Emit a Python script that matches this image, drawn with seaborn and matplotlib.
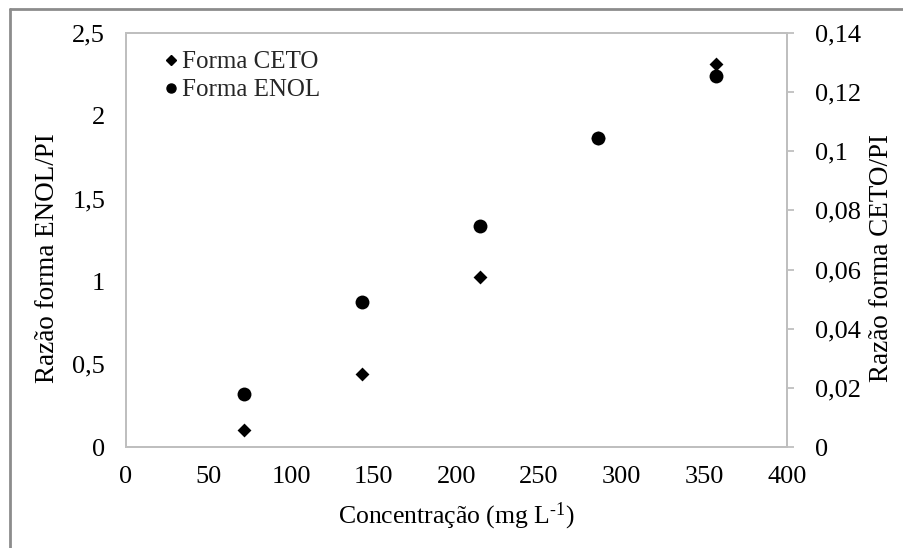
import matplotlib
matplotlib.use("Agg")
import matplotlib.pyplot as plt
import seaborn as sns
import pandas as pd
from matplotlib.ticker import FuncFormatter, FixedLocator
from matplotlib.lines import Line2D

# data
concentracao = [71.4, 142.8, 214.2, 285.6, 357.0]
enol = [0.318, 0.876, 1.335, 1.866, 2.24]
ceto = [0.0057, 0.0247, 0.0575, 0.1045, 0.1295]
left_ticks = [0, 0.5, 1, 1.5, 2, 2.5]
right_ticks = [0, 0.02, 0.04, 0.06, 0.08, 0.10, 0.12, 0.14]
x_ticks = [0, 50, 100, 150, 200, 250, 300, 350, 400]

sns.set_theme(style="white")
plt.rcParams['font.family'] = ['Liberation Serif', 'DejaVu Serif']
plt.rcParams['mathtext.fontset'] = 'custom'
plt.rcParams['mathtext.rm'] = 'Liberation Serif'
plt.rcParams['mathtext.it'] = 'Liberation Serif:italic'

df = pd.DataFrame({"x": concentracao, "enol": enol, "ceto": ceto})

fig = plt.figure(figsize=(9.04, 5.48), dpi=100)
ax = fig.add_axes([126/904, 101/548, (787-126)/904, (447-33)/548])
ax2 = ax.twinx()

sns.scatterplot(data=df, x="x", y="enol", ax=ax, marker="o", s=100, color="black",
                edgecolor="black", linewidth=0, zorder=3)
sns.scatterplot(data=df, x="x", y="ceto", ax=ax2, marker="D", s=50, color="black",
                edgecolor="black", linewidth=0, zorder=3)

def comma(v, pos=None):
    s = ("%.2f" % v).rstrip("0").rstrip(".")
    return s.replace(".", ",")

grey = "#bfbfbf"
fs = 19
ax.set_xlim(0, 400)
ax.set_ylim(0, 2.5)
ax2.set_ylim(0, 0.14)
ax.xaxis.set_major_locator(FixedLocator(x_ticks))
ax.yaxis.set_major_locator(FixedLocator(left_ticks))
ax2.yaxis.set_major_locator(FixedLocator(right_ticks))
ax.yaxis.set_major_formatter(FuncFormatter(comma))
ax2.yaxis.set_major_formatter(FuncFormatter(comma))
ax.xaxis.set_major_formatter(FuncFormatter(lambda v, p: "%d" % v))

for a in (ax, ax2):
    for sp in a.spines.values():
        sp.set_color(grey)
        sp.set_linewidth(1.3)
ax.tick_params(axis="y", length=0, labelsize=fs, colors="black", pad=15)
ax.tick_params(axis="x", length=0, labelsize=fs, colors="black", pad=14)
ax2.tick_params(axis="y", length=5, width=1.3, color=grey, labelsize=fs,
                labelcolor="black", direction="out", pad=15)

ax.set_xlabel("Concentração (mg L$^{\\text{-1}}$)", fontsize=18.5, color="black")
ax.set_ylabel("Razão forma ENOL/PI", fontsize=19.5, color="black")
ax2.set_ylabel("Razão forma CETO/PI", fontsize=19.5, color="black")
ax.xaxis.label.set_va("center")
ax.yaxis.label.set_va("center")
ax2.yaxis.label.set_va("center")
ax.xaxis.set_label_coords(0.5, -(516 - 447) / 414)
ax.yaxis.set_label_coords((48 - 126) / 661, (447 - 258) / 414)
ax2.yaxis.set_label_coords((881 - 126) / 661, (447 - 258) / 414)

handles = [Line2D([], [], marker="D", color="black", linestyle="none", markersize=5.5),
           Line2D([], [], marker="o", color="black", linestyle="none", markersize=6.5)]
ax2.legend(handles, ["Forma CETO", "Forma ENOL"], loc="upper left",
           bbox_to_anchor=(0.028, 0.993), frameon=False, fontsize=18,
           handletextpad=0.0, handlelength=0.9, labelspacing=0.22, borderpad=0.1)

# outer chart frame (top and left edges)
fig.add_artist(Line2D([10/904, 1], [1 - 9/548, 1 - 9/548], transform=fig.transFigure,
                      color="#8c8c8c", linewidth=2))
fig.add_artist(Line2D([10/904, 10/904], [0, 1 - 9/548], transform=fig.transFigure,
                      color="#8c8c8c", linewidth=2))

fig.savefig("out.png", dpi=100)
